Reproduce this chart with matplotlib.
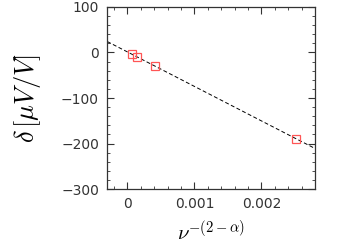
import matplotlib
matplotlib.use("Agg")
import matplotlib.pyplot as plt
import numpy as np
from matplotlib.ticker import MultipleLocator

plt.rcParams["mathtext.fontset"] = "cm"

# === DATOS ===
nu_x = [0.00007, 0.00014, 0.00041, 0.00251]
delta_y = [-3, -9, -30, -190]
fit_x = [-0.0003, 0.0028]
fit_intercept = 1.3
fit_slope = -75800

fig = plt.figure(figsize=(3.46, 2.45), dpi=100)
ax = fig.add_axes([107.3 / 346, 1 - 189 / 245, (315 - 107.3) / 346, (189 - 7) / 245])

fx = np.array(fit_x)
ax.plot(fx, fit_intercept + fit_slope * fx, color="black", lw=0.7, ls=(0, (4, 2.5)))
ax.plot(nu_x, delta_y, ls="none", marker="s", ms=6, mfc="none", mec="#ff5555", mew=0.9)

ax.set_xlim(-0.0003, 0.0028)
ax.set_ylim(-300, 100)
ax.xaxis.set_minor_locator(MultipleLocator(0.0002))
ax.yaxis.set_major_locator(MultipleLocator(100))
ax.yaxis.set_minor_locator(MultipleLocator(20))
ax.set_xticks([0, 0.001, 0.002])
ax.set_xticklabels(["0", "0.001", "0.002"])
ax.tick_params(which="both", direction="in", top=True, right=True, labelsize=10, colors="#333333")
ax.tick_params(which="major", length=5, width=0.8, pad=6)
ax.tick_params(which="minor", length=2.5, width=0.6)
for s in ax.spines.values():
    s.set_color("#333333")
    s.set_linewidth(0.9)

ax.set_xlabel(r"$\nu^{-(2-\alpha)}$", fontsize=15, labelpad=6)
ax.set_ylabel(r"$\delta\,[\mu V/V]$", fontsize=19, labelpad=13)

fig.savefig("out.png", dpi=100)
